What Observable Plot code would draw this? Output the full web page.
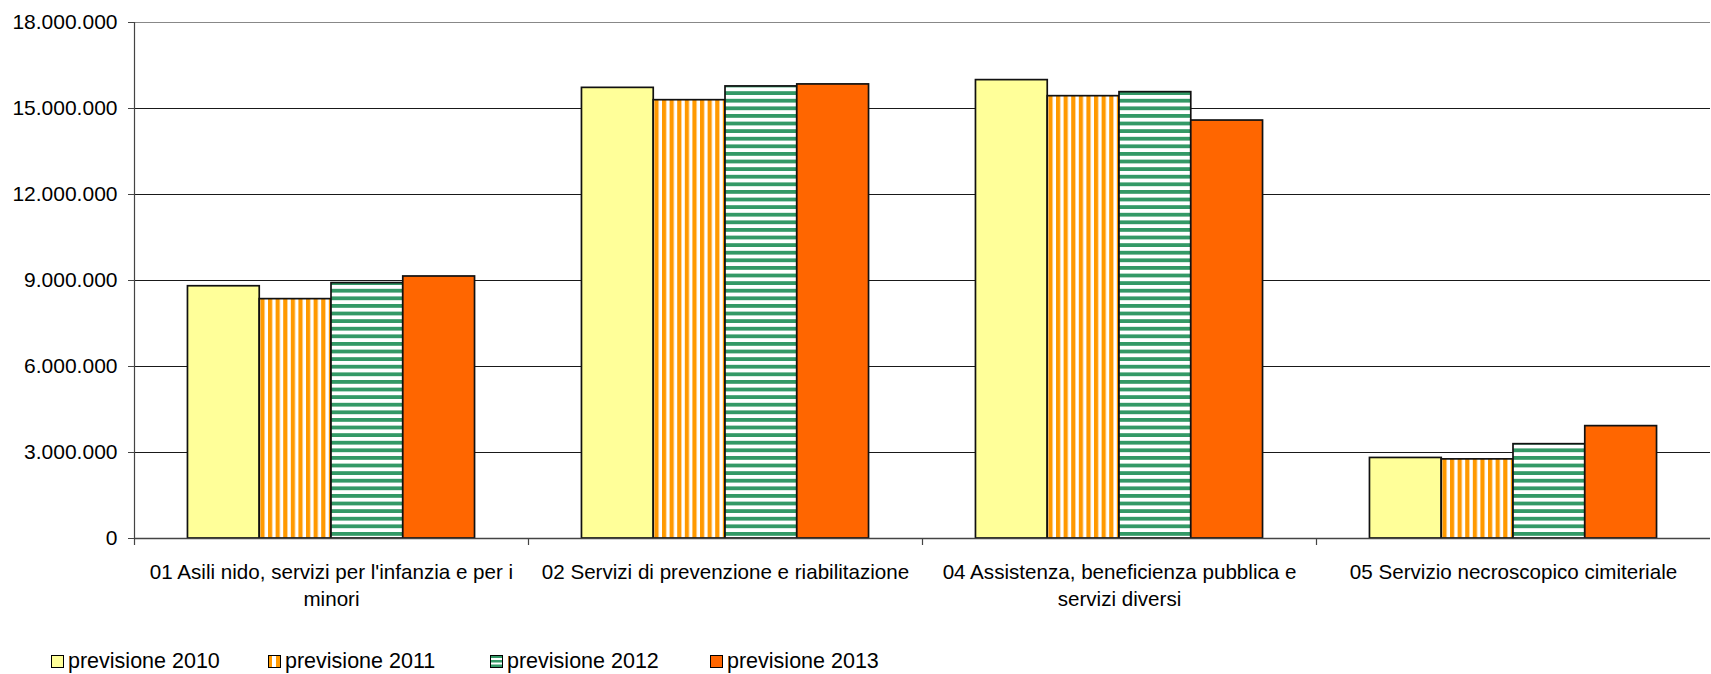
<!DOCTYPE html>
<html><head><meta charset="utf-8">
<script src="https://cdn.jsdelivr.net/npm/d3@7"></script>
<script src="https://cdn.jsdelivr.net/npm/@observablehq/plot@0.6"></script>
<style>
body{margin:0;background:#fff;font-family:"Liberation Sans",Arial,sans-serif;color:#000;}
#chart{position:relative;width:1711px;height:674px;overflow:hidden;}
#legend{position:absolute;left:0;top:649px;height:24px;width:1711px;}
.item{position:absolute;top:0;height:24px;display:flex;align-items:center;font-size:21.5px;white-space:nowrap;}
.item svg{margin-right:4px;}
</style></head><body>
<svg width="0" height="0" style="position:absolute">
<defs>
<pattern id="p2011" patternUnits="userSpaceOnUse" width="7.6" height="8"><rect width="7.6" height="8" fill="#fff"/><rect x="0" width="4.2" height="8" fill="#FF9900"/></pattern>
<pattern id="p2012" patternUnits="userSpaceOnUse" width="8" height="7.6"><rect width="8" height="7.6" fill="#fff"/><rect y="0" width="8" height="3.8" fill="#339966"/></pattern>
<pattern id="l2011" patternUnits="userSpaceOnUse" width="12" height="12"><rect width="12" height="12" fill="#fff"/><rect x="0" width="4" height="12" fill="#FF9900"/><rect x="8" width="4" height="12" fill="#FF9900"/></pattern>
<pattern id="l2012" patternUnits="userSpaceOnUse" width="12" height="12"><rect width="12" height="12" fill="#fff"/><rect y="0" width="12" height="3" fill="#339966"/><rect y="5" width="12" height="2.5" fill="#339966"/><rect y="9.5" width="12" height="3" fill="#339966"/></pattern>
</defs></svg>
<div id="chart"><div id="legend"></div></div>
<script>
const categories = [
  "01 Asili nido, servizi per l'infanzia e per i minori",
  "02 Servizi di prevenzione e riabilitazione",
  "04 Assistenza, beneficienza pubblica e servizi diversi",
  "05 Servizio necroscopico cimiteriale"
];
const tickLabels = [
  "01 Asili nido, servizi per l'infanzia e per i\nminori",
  "02 Servizi di prevenzione e riabilitazione",
  "04 Assistenza, beneficienza pubblica e\nservizi diversi",
  "05 Servizio necroscopico cimiteriale"
];
const series = ["previsione 2010", "previsione 2011", "previsione 2012", "previsione 2013"];
const v2010 = [8800000, 15720000, 15990000, 2810000];
const v2011 = [8350000, 15290000, 15430000, 2760000];
const v2012 = [8910000, 15770000, 15570000, 3290000];
const v2013 = [9140000, 15840000, 14580000, 3920000];
const yTicks = [0, 3000000, 6000000, 9000000, 12000000, 15000000, 18000000];
const colors = ["#FFFF99", "url(#p2011)", "url(#p2012)", "#FF6600"];
const legendColors = ["#FFFF99", "url(#l2011)", "url(#l2012)", "#FF6600"];

const allValues = [v2010, v2011, v2012, v2013];
const data = [];
categories.forEach((c, ci) => series.forEach((s, si) => data.push({category: c, series: s, si, value: allValues[si][ci]})));

const fmt = d3.formatLocale({decimal: ",", thousands: ".", grouping: [3], currency: ["€", ""]}).format(",d");
const xDomain = [-0.745, series.length + 0.745];
const innerH = 516;

const chart = Plot.plot({
  width: 1711,
  height: 620,
  marginTop: 22,
  marginBottom: 82,
  marginLeft: 132,
  marginRight: 0,
  style: {fontFamily: "Liberation Sans, Arial, sans-serif", fontSize: "20px", color: "#000", background: "#fff"},
  fx: {domain: categories, padding: 0, label: null, axis: null},
  x: {domain: xDomain, axis: null},
  y: {domain: [0, 18000000], axis: null},
  color: {type: "ordinal", domain: series, range: colors},
  marks: [
    Plot.gridY(yTicks.slice(1, -1), {stroke: "#000", strokeOpacity: 0.9}),
    Plot.gridY(yTicks.slice(-1), {stroke: "#888", strokeOpacity: 1}),
    Plot.rectY(data, {fx: "category", x1: "si", x2: d => d.si + 1, y: "value", fill: "series", stroke: "#111", strokeWidth: 1.7}),
    Plot.ruleY([0], {stroke: "#444", strokeWidth: 1.5}),
    Plot.ruleX(categories, {fx: d => d, x: () => xDomain[0], insetTop: innerH, insetBottom: -7, stroke: "#444", strokeWidth: 1.2}),
    Plot.ruleX(categories.slice(0, 1), {fx: d => d, x: () => xDomain[0], stroke: "#444", strokeWidth: 1.2}),
    Plot.axisY({ticks: yTicks, tickFormat: fmt, tickSize: 6, tickPadding: 11, fontSize: 21, stroke: "#444", label: null}),
    Plot.axisFx({anchor: "bottom", tickSize: 0, tickPadding: 22, fontSize: 20.6, lineHeight: 1.28, label: null,
      tickFormat: d => tickLabels[categories.indexOf(d)]})
  ]
});
document.getElementById("chart").prepend(chart);

const legend = d3.select("#legend");
const legendLeft = [51, 268, 490, 710];
series.forEach((s, i) => {
  const item = legend.append("div").attr("class", "item").style("left", legendLeft[i] + "px");
  const sw = item.append("svg").attr("width", 13).attr("height", 13);
  sw.append("rect").attr("x", 0.5).attr("y", 0.5).attr("width", 12).attr("height", 12)
    .attr("fill", legendColors[i]).attr("stroke", "#000").attr("stroke-width", 1);
  item.append("span").text(s);
});
</script>
</body></html>
